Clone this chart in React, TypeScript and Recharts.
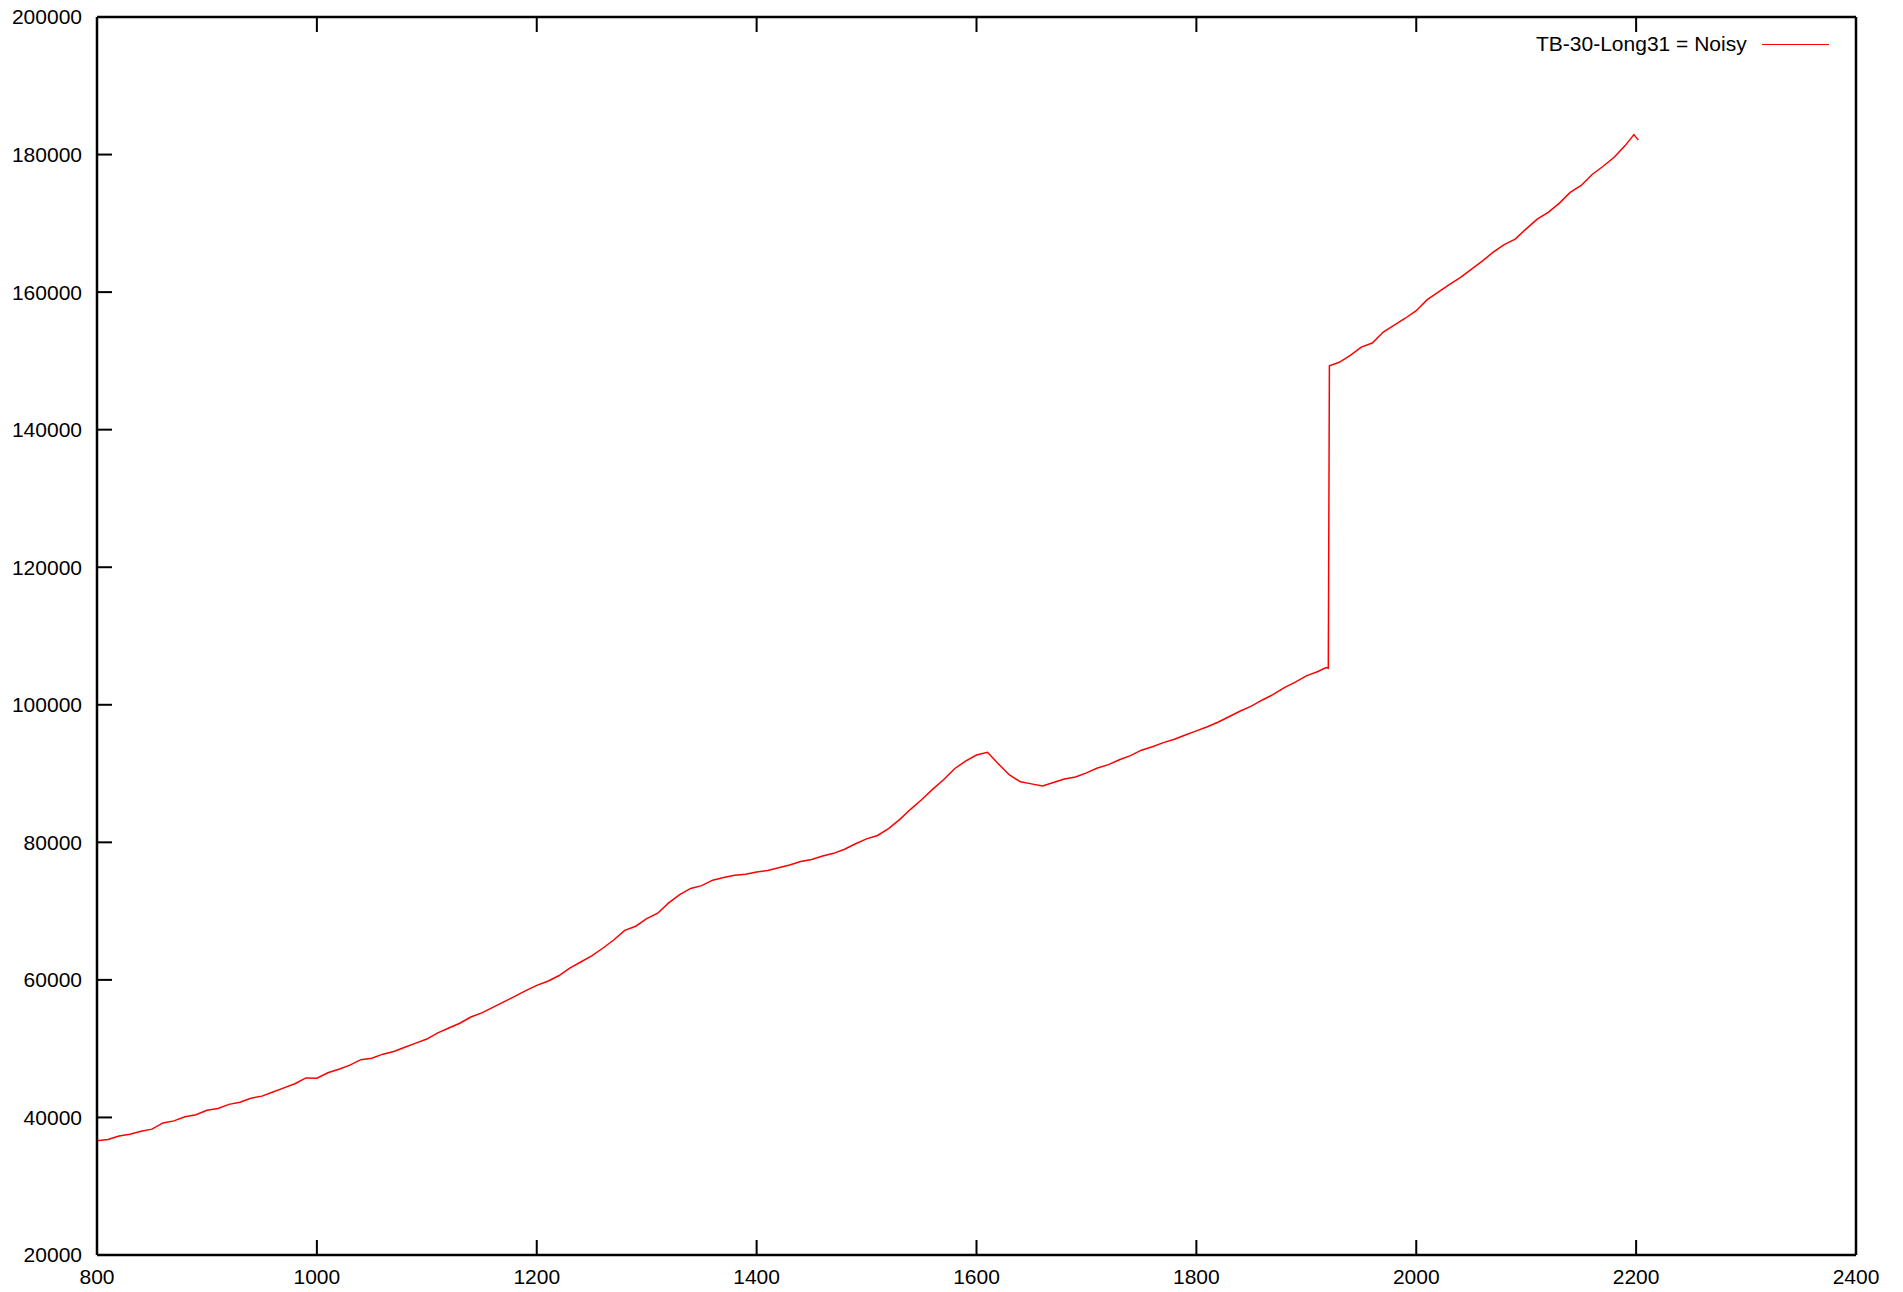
import { LineChart, Line, XAxis, YAxis, Legend } from "recharts";

// x values (step)
const xValues = [
  800, 810, 820, 830, 840, 850, 860, 870, 880, 890,
  900, 910, 920, 930, 940, 950, 960, 970, 980, 990,
  1000, 1010, 1020, 1030, 1040, 1050, 1060, 1070, 1080, 1090,
  1100, 1110, 1120, 1130, 1140, 1150, 1160, 1170, 1180, 1190,
  1200, 1210, 1220, 1230, 1240, 1250, 1260, 1270, 1280, 1290,
  1300, 1310, 1320, 1330, 1340, 1350, 1360, 1370, 1380, 1390,
  1400, 1410, 1420, 1430, 1440, 1450, 1460, 1470, 1480, 1490,
  1500, 1510, 1520, 1530, 1540, 1550, 1560, 1570, 1580, 1590,
  1600, 1610, 1620, 1630, 1640, 1650, 1660, 1670, 1680, 1690,
  1700, 1710, 1720, 1730, 1740, 1750, 1760, 1770, 1780, 1790,
  1800, 1810, 1820, 1830, 1840, 1850, 1860, 1870, 1880, 1890,
  1900, 1910, 1918, 1920, 1921, 1930, 1940, 1950, 1960, 1970,
  1980, 1990, 2000, 2010, 2020, 2030, 2040, 2050, 2060, 2070,
  2080, 2090, 2100, 2110, 2120, 2130, 2140, 2150, 2160, 2170,
  2180, 2190, 2198, 2202,
];

// TB-30-Long31 = Noisy
const noisy = [
  36600, 36800, 37300, 37550, 38000, 38300, 39200, 39500, 40100, 40400,
  41050, 41300, 41900, 42200, 42800, 43100, 43700, 44300, 44900, 45750,
  45700, 46500, 47000, 47600, 48400, 48600, 49200, 49600, 50200, 50800,
  51400, 52300, 53000, 53700, 54600, 55200, 56000, 56800, 57600, 58450,
  59200, 59800, 60600, 61700, 62600, 63500, 64600, 65800, 67200, 67800,
  68900, 69700, 71200, 72400, 73300, 73700, 74500, 74900, 75200, 75350,
  75700, 75900, 76300, 76700, 77200, 77500, 78000, 78400, 79000, 79800,
  80500, 81000, 82000, 83300, 84800, 86200, 87700, 89100, 90700, 91800,
  92700, 93100, 91400, 89800, 88800, 88500, 88200, 88700, 89200, 89500,
  90100, 90800, 91300, 92000, 92600, 93400, 93900, 94500, 95000, 95600,
  96200, 96800, 97500, 98300, 99100, 99800, 100700, 101500, 102500, 103300,
  104200, 104800, 105400, 105300, 149300, 149800, 150800, 152000, 152600, 154200,
  155200, 156200, 157300, 158900, 160000, 161100, 162100, 163300, 164500, 165800,
  166900, 167700, 169200, 170600, 171600, 172900, 174500, 175500, 177100, 178300,
  179600, 181300, 182900, 182100,
];

const xTicks = [800, 1000, 1200, 1400, 1600, 1800, 2000, 2200, 2400];
const yTicks = [20000, 40000, 60000, 80000, 100000, 120000, 140000, 160000, 180000, 200000];

const seriesName = "TB-30-Long31 = Noisy";

const data = xValues.map((x, i) => ({ x, noisy: noisy[i] }));

const font = { fontFamily: "'Liberation Sans', Arial, sans-serif", fontSize: 21, fill: "#000" };
const axisLine = { stroke: "#000", strokeWidth: 2.5 };
const tickLine = { stroke: "#000", strokeWidth: 2 };

const LegendBox = () => (
  <div
    style={{
      display: "flex",
      alignItems: "center",
      fontFamily: "'Liberation Sans', Arial, sans-serif",
      fontSize: 21,
      color: "#000",
      whiteSpace: "nowrap",
    }}
  >
    <span>{seriesName}</span>
    <span
      style={{
        display: "inline-block",
        width: 67,
        borderTop: "1.5px solid #ff0000",
        marginLeft: 15,
      }}
    />
  </div>
);

export default function App() {
  return (
    <div style={{ position: "absolute", left: 0, top: 0 }}>
      <LineChart
        width={1903}
        height={1292}
        data={data}
        margin={{ top: 16, right: 46, bottom: 7, left: 17 }}
      >
        <XAxis
          dataKey="x"
          type="number"
          domain={[800, 2400]}
          ticks={xTicks}
          height={30}
          axisLine={axisLine}
          tickLine={tickLine}
          tickSize={-15}
          tickMargin={29}
          tick={font}
          interval={0}
        />
        <XAxis
          xAxisId="top"
          orientation="top"
          dataKey="x"
          type="number"
          domain={[800, 2400]}
          ticks={xTicks}
          height={1}
          axisLine={axisLine}
          tickLine={tickLine}
          tickSize={-15}
          tickFormatter={() => ""}
          interval={0}
        />
        <YAxis
          type="number"
          domain={[20000, 200000]}
          ticks={yTicks}
          width={80}
          axisLine={axisLine}
          tickLine={tickLine}
          tickSize={-15}
          tickMargin={30}
          tick={font}
          interval={0}
        />
        <YAxis
          yAxisId="right"
          orientation="right"
          type="number"
          domain={[20000, 200000]}
          ticks={yTicks}
          width={1}
          axisLine={axisLine}
          tickLine={tickLine}
          tickSize={-15}
          tickFormatter={() => ""}
          interval={0}
        />
        <Legend
          layout="horizontal"
          verticalAlign="middle"
          align="center"
          content={() => <LegendBox />}
          wrapperStyle={{ left: 1536, top: 32, width: 320 }}
        />
        <Line
          type="linear"
          dataKey="noisy"
          name={seriesName}
          stroke="#ff0000"
          strokeWidth={1.5}
          dot={false}
          isAnimationActive={false}
        />
      </LineChart>
    </div>
  );
}
